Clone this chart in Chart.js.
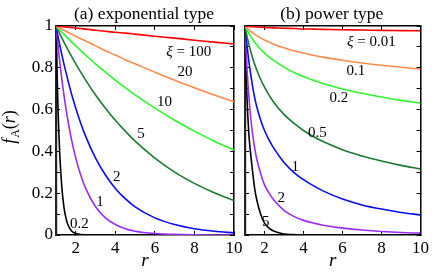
<!DOCTYPE html>
<html><head><meta charset="utf-8">
<script src="https://cdn.jsdelivr.net/npm/chart.js@4/dist/chart.umd.min.js"></script>
<style>
html,body{margin:0;padding:0;background:#fff;}
#wrap{position:relative;width:436px;height:273px;overflow:hidden;background:#fff;}
canvas{position:absolute;top:0;}
#c1{left:0;} #c2{left:236px;}
</style></head><body>
<div id="wrap"><canvas id="c1" width="252" height="273"></canvas><canvas id="c2" width="200" height="273"></canvas></div>
<script>
// ---- data ----
const rExp = [1, 1.1, 1.2, 1.3, 1.4, 1.5, 1.6, 1.8, 2, 2.25, 2.5, 3, 3.5, 4, 4.5, 5, 6, 7, 8, 9, 10];
const expXiLabels = ['ξ = 100', '20', '10', '5', '2', '1', '0.2'];
const expXi100 = [1, .999, .998, .997, .996, .995, .994, .992, .990, .988, .985, .980, .975, .970, .966, .961, .951, .942, .932, .923, .914];
const expXi20  = [1, .995, .990, .985, .980, .975, .970, .961, .951, .939, .928, .905, .882, .861, .839, .819, .779, .741, .705, .670, .638];
const expXi10  = [1, .990, .980, .970, .961, .951, .942, .923, .905, .882, .861, .819, .779, .741, .705, .670, .607, .549, .497, .449, .407];
const expXi5   = [1, .980, .961, .942, .923, .905, .887, .852, .819, .779, .741, .670, .607, .549, .497, .449, .368, .301, .247, .202, .165];
const expXi2   = [1, .951, .905, .861, .819, .779, .741, .670, .607, .535, .472, .368, .287, .223, .174, .135, .082, .050, .030, .018, .010];
const expXi1   = [1, .905, .819, .741, .670, .607, .549, .449, .368, .287, .223, .135, .082, .050, .030, .018, .007, .003, .001, 0, 0];
const expXi02  = [1, .607, .368, .223, .135, .082, .050, .018, .007, .002, .001, 0, 0, 0, 0, 0, 0, 0, 0, 0, 0];

const rPow = [1, 1.1, 1.2, 1.3, 1.4, 1.5, 1.6, 1.8, 2, 2.25, 2.5, 3, 3.5, 4, 4.5, 5, 6, 7, 8, 9, 10];
const powXiLabels = ['ξ = 0.01', '0.1', '0.2', '0.5', '1', '2', '5'];
const powXi001 = [1, .999, .998, .997, .997, .996, .995, .994, .993, .992, .991, .989, .988, .986, .985, .984, .982, .981, .979, .978, .977];
const powXi01  = [1, .991, .982, .974, .967, .960, .954, .943, .933, .922, .912, .896, .882, .871, .860, .851, .836, .823, .812, .803, .794];
const powXi02  = [1, .981, .964, .949, .935, .922, .910, .889, .871, .850, .833, .803, .778, .758, .740, .725, .699, .678, .660, .644, .631];
const powXi05  = [1, .953, .913, .877, .845, .816, .791, .745, .707, .667, .632, .577, .535, .500, .471, .447, .408, .378, .354, .333, .316];
const powXi1   = [1, .91, .83, .765, .705, .655, .615, .55, .5, .452, .412, .347, .3, .265, .236, .211, .172, .144, .124, .108, .096];
const powXi2   = [1, .8, .66, .555, .475, .415, .365, .295, .24, .198, .165, .118, .089, .07, .057, .047, .033, .024, .017, .012, .009];
const powXi5   = [1, .66, .48, .38, .295, .22, .17, .1, .057, .032, .018, .005, .002, 0, 0, 0, 0, 0, 0, 0, 0];

const xTicks = [2, 4, 6, 8, 10];
const xTickLabels = ['2', '4', '6', '8', '10'];
const yTicks = [0, 0.1, 0.2, 0.3, 0.4, 0.5, 0.6, 0.7, 0.8, 0.9, 1];
const yTickLabels = ['0', '', '0.2', '', '0.4', '', '0.6', '', '0.8', '', '1'];

// ---- styles ----
const lineColors = ['#ff0000', '#ff8a4c', '#2ef52e', '#1b7a33', '#0a0af5', '#9a2cf5', '#000000'];
const FONT = "'Liberation Serif', 'Times New Roman', serif";

function makeChart(canvas, cfg) {
  const datasets = cfg.series.map((vals, k) => ({
    data: cfg.rs.map((r, i) => ({x: r, y: vals[i]})),
    borderColor: lineColors[k], borderWidth: 1.6, pointRadius: 0, fill: false,
    cubicInterpolationMode: 'monotone'
  }));
  const setX = s => { s.ticks = xTicks.map(v => ({value: v})); };
  const setY = s => { s.ticks = yTicks.map(v => ({value: v})); };
  const grid = {display: true, drawOnChartArea: false, drawTicks: true, tickLength: -4, tickColor: '#000', tickWidth: 1};
  const border = {display: true, color: '#000', width: 1.5};
  const borderLeft = {display: true, color: '#222', width: 2.2};
  const tickFont = {family: FONT, size: 17};
  const overlay = {
    id: 'overlay',
    afterDraw(chart) {
      const ctx = chart.ctx, xs = chart.scales.x, ys = chart.scales.y, a = chart.chartArea;
      ctx.save();
      ctx.fillStyle = '#000';
      // panel title
      ctx.font = '17.5px ' + FONT;
      ctx.textAlign = 'center'; ctx.textBaseline = 'alphabetic';
      ctx.fillText(cfg.title, (a.left + a.right) / 2 - 1, 18.5);
      // curve labels
      ctx.font = '15px ' + FONT;
      ctx.textBaseline = 'middle';
      cfg.curveLabels.forEach((txt, k) => {
        const px = xs.getPixelForValue(cfg.labelAt[k][0]);
        const py = ys.getPixelForValue(cfg.labelAt[k][1]);
        if (txt.startsWith('ξ')) {
          const rest = txt.slice(1);
          ctx.font = 'italic 15px ' + FONT; const w1 = ctx.measureText('ξ').width;
          ctx.font = '15px ' + FONT; const w2 = ctx.measureText(rest).width;
          const x0 = px - (w1 + w2) / 2;
          ctx.textAlign = 'left';
          ctx.font = 'italic 15px ' + FONT; ctx.fillText('ξ', x0, py);
          ctx.font = '15px ' + FONT; ctx.fillText(rest, x0 + w1, py);
        } else {
          ctx.textAlign = 'center';
          ctx.fillText(txt, px, py);
        }
      });
      // y axis title f_A(r)
      if (cfg.yTitle) {
        const parts = [
          {t: 'f', f: 'italic 18px ' + FONT, dy: 0},
          {t: 'A', f: '12px ' + FONT, dy: 4},
          {t: '(', f: '18px ' + FONT, dy: 0},
          {t: 'r', f: 'italic 18px ' + FONT, dy: 0},
          {t: ')', f: '18px ' + FONT, dy: 0}
        ];
        let total = 0;
        parts.forEach(p => { ctx.font = p.f; p.w = ctx.measureText(p.t).width; total += p.w; });
        ctx.translate(15, (a.top + a.bottom) / 2 - 3);
        ctx.rotate(-Math.PI / 2);
        ctx.textAlign = 'left'; ctx.textBaseline = 'alphabetic';
        let x = -total / 2;
        parts.forEach(p => { ctx.font = p.f; ctx.fillText(p.t, x, p.dy); x += p.w + (p.t === 'f' ? 1 : 0); });
      }
      ctx.restore();
    }
  };
  return new Chart(canvas, {
    type: 'line',
    data: {datasets},
    options: {
      responsive: false, animation: false,
      layout: {padding: {left: 0, top: cfg.top, right: cfg.padRight, bottom: 0}},
      plugins: {legend: {display: false}, tooltip: {enabled: false}, title: {display: false}},
      scales: {
        x: {type: 'linear', position: 'bottom', min: 1, max: 10, afterBuildTicks: setX,
            afterFit: s => { s.height = 273 - cfg.bottom; },
            grid, border,
            ticks: {color: '#000', font: tickFont, padding: 7, maxRotation: 0, autoSkip: false,
                    callback: (v, i) => xTickLabels[i]},
            title: {display: true, text: 'r', color: '#000', font: {family: FONT, size: 19, style: 'italic'}, padding: {top: 0, bottom: 1}}},
        xTop: {type: 'linear', position: 'top', min: 1, max: 10, afterBuildTicks: setX,
            afterFit: s => { s.height = 0; }, grid, border, ticks: {display: false}},
        y: {type: 'linear', position: 'left', min: 0, max: 1, afterBuildTicks: setY,
            afterFit: s => { s.width = cfg.left; },
            grid, border: borderLeft,
            ticks: {color: '#000', font: tickFont, padding: 7, autoSkip: false, display: cfg.showY,
                    callback: (v, i) => yTickLabels[i]}},
        yRight: {type: 'linear', position: 'right', min: 0, max: 1, afterBuildTicks: setY,
            afterFit: s => { s.width = 0; }, grid, border, ticks: {display: false}}
      }
    },
    plugins: [overlay]
  });
}

makeChart(document.getElementById('c1'), {
  rs: rExp,
  series: [expXi100, expXi20, expXi10, expXi5, expXi2, expXi1, expXi02],
  curveLabels: expXiLabels,
  labelAt: [[7.71, 0.877], [7.52, 0.781], [6.49, 0.638], [5.30, 0.483], [4.07, 0.279], [3.22, 0.159], [2.18, 0.051]],
  title: '(a) exponential type', yTitle: true, showY: true,
  left: 56, padRight: 18, top: 26, bottom: 235
});
makeChart(document.getElementById('c2'), {
  rs: rPow,
  series: [powXi001, powXi01, powXi02, powXi05, powXi1, powXi2, powXi5],
  curveLabels: powXiLabels,
  labelAt: [[7.48, 0.925], [6.69, 0.785], [5.81, 0.654], [4.71, 0.489], [3.58, 0.324], [2.86, 0.176], [2.06, 0.064]],
  title: '(b) power type', yTitle: false, showY: false,
  left: 9, padRight: 13, top: 26, bottom: 235
});
</script>
</body></html>
